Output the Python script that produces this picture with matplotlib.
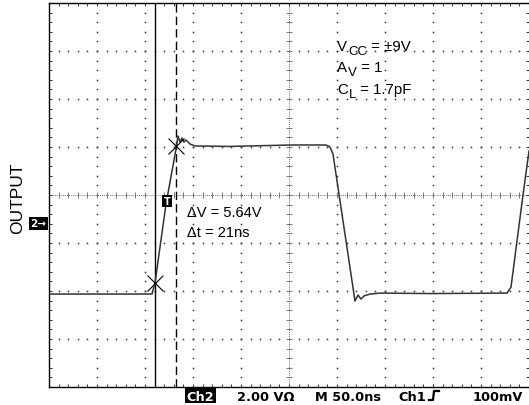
import numpy as np
import matplotlib
matplotlib.use("Agg")
import matplotlib.pyplot as plt
from matplotlib.patches import Rectangle
from matplotlib.lines import Line2D

# ---- data (time in ns, output in V) ----
t_ns = [0, 60, 107.3, 110.4, 121.9, 132.3, 134.4, 136.5, 138.5, 140.6, 142.7, 146.9,
        152.1, 188.5, 251.0, 288.5, 292.7, 295.8, 318.75, 321.9, 325.0, 328.1,
        334.4, 344.8, 396.9, 477.1, 481.25, 493.75, 500.0]
v_out = [-2.96, -2.96, -2.96, -2.50, 0.79, 3.08, 3.62, 3.37, 3.54, 3.37, 3.46, 3.29,
         3.21, 3.19, 3.25, 3.25, 3.17, 2.88, -3.25, -3.00, -3.17, -3.04,
         -2.96, -2.92, -2.94, -2.92, -2.67, 1.17, 3.00]

cursor_t = [110.4, 132.3]        # ns
cursor_v = [-2.50, 3.21]         # V
V_CENTER = 7.0 / 6.0             # screen center in V (ch2 ground 0.583 div below center)
V_DIV = 2.0                      # V/div
T_DIV = 50.0                     # ns/div

cond_lines = [[("V", 0), ("CC", 1), (" = ±9V", 0)],
              [("A", 0), ("V", 1), (" = 1", 0)],
              [("C", 0), ("L", 1), (" = 1.7pF", 0)]]
meas_lines = ["ΔV = 5.64V", "Δt = 21ns"]

W, H = 529, 406
fig = plt.figure(figsize=(W / 100, H / 100), dpi=100)
fig.patch.set_facecolor('white')

def fx(x):
    return x / W

def fy(y):
    return 1 - y / H

L, T, R, B = 49, 4, 529, 388
ax = fig.add_axes([fx(L), fy(B), (R - L) / W, (B - T) / H])
ax.set_xlim(0, 10 * T_DIV)
ax.set_ylim(V_CENTER - 4 * V_DIV, V_CENTER + 4 * V_DIV)
ax.set_facecolor('white')

for s in ['left', 'bottom', 'top']:
    ax.spines[s].set_linewidth(1.0)
    ax.spines[s].set_color('black')
ax.spines['right'].set_visible(False)

ax.set_xticks([])
ax.set_yticks([])
ax.set_xticks(np.arange(0, 10 * T_DIV + 0.1, T_DIV / 5), minor=True)
ax.set_yticks(V_CENTER + np.arange(-4 * V_DIV, 4 * V_DIV + 0.01, V_DIV / 5), minor=True)
ax.tick_params(which='both', direction='in', length=2.2, width=0.7, color='#333333',
               top=True, right=True, bottom=True, left=True,
               labelbottom=False, labelleft=False)

# graticule dots
gcol = '#333333'
tx_minor = np.arange(0, 10 * T_DIV + 0.1, T_DIV / 5)
vy_minor = V_CENTER + np.arange(-4 * V_DIV, 4 * V_DIV + 0.01, V_DIV / 5)
for k in range(1, 11):
    if k == 5:
        continue
    tg = k * T_DIV
    ax.plot([tg] * len(vy_minor), vy_minor, ls='none', marker='s', ms=1.1,
            mew=0, color=gcol, clip_on=False, zorder=1)
for k in range(-3, 4):
    if k == 0:
        continue
    vg = V_CENTER + k * V_DIV
    ax.plot(tx_minor, [vg] * len(tx_minor), ls='none', marker='s', ms=1.1,
            mew=0, color=gcol, zorder=1)

# center lines with ticks
ccol = '#777777'
ax.axhline(V_CENTER, color=ccol, lw=0.7, ls=(0, (1, 1)), zorder=1)
ax.axvline(5 * T_DIV, color=ccol, lw=0.7, ls=(0, (1, 1)), zorder=1)
ax.plot(tx_minor, [V_CENTER] * len(tx_minor), ls='none', marker='|', ms=5,
        mew=0.7, color=ccol, zorder=1)
ax.plot([5 * T_DIV] * len(vy_minor), vy_minor, ls='none', marker='_', ms=5,
        mew=0.7, color=ccol, zorder=1)

# cursors
ax.axvline(cursor_t[0], color='black', lw=1.0, zorder=3)
ax.axvline(cursor_t[1], color='black', lw=1.0, ls=(0, (6, 3)), zorder=3)

# waveform
ax.plot(t_ns, v_out, color='#333333', lw=1.1, zorder=4, solid_joinstyle='round')

# cursor crossing marks
ax.plot(cursor_t, cursor_v, ls='none', marker='x', ms=11, mew=0.8, color='black', zorder=5)

# text annotations
renderer = fig.canvas.get_renderer()
tfont = dict(family='Liberation Sans', color='black')
for i, parts in enumerate(cond_lines):
    x = 337.0
    base = 51 + i * 21.5
    for s, sub in parts:
        if sub:
            t = fig.text(fx(x + 1.0), fy(base + 4), s, ha='left', va='baseline',
                         fontsize=9.5, **tfont)
        else:
            t = fig.text(fx(x), fy(base), s, ha='left', va='baseline',
                         fontsize=10.8, **tfont)
        x += t.get_window_extent(renderer).width + (1.0 if sub else 0)
for i, s in enumerate(meas_lines):
    fig.text(fx(187), fy(217 + i * 20.5), s, ha='left', va='baseline',
             fontsize=10.5, **tfont)

fig.text(fx(18), fy(198), "OUTPUT", rotation=90, ha='center', va='center',
         family='Liberation Sans', fontsize=12.5)

# channel 2 ground marker
fig.patches.append(Rectangle((fx(29), fy(231)), (48 - 29) / W, 13 / H,
                             transform=fig.transFigure, facecolor='black', edgecolor='none'))
fig.text(fx(38.5), fy(224.5), "2→", ha='center', va='center', color='white',
         family='DejaVu Sans', fontsize=7.5, fontweight='bold')

# trigger marker
fig.patches.append(Rectangle((fx(162), fy(208)), 10 / W, 12 / H,
                             transform=fig.transFigure, facecolor='black', edgecolor='none',
                             zorder=6))
fig.text(fx(167), fy(202), "T", ha='center', va='center', color='white',
         family='DejaVu Sans', fontsize=7, fontweight='bold', zorder=7)

# bottom status bar
bfont = dict(family='DejaVu Sans', fontsize=9.3, fontweight='bold', color='black')
fig.patches.append(Rectangle((fx(185), fy(404)), 31 / W, 15 / H,
                             transform=fig.transFigure, facecolor='black', edgecolor='none'))
fig.text(fx(200.5), fy(401), "Ch2", ha='center', va='baseline', **{**bfont, 'color': 'white'})
fig.text(fx(237), fy(401), "2.00 VΩ", ha='left', va='baseline', **bfont)
fig.text(fx(315), fy(401), "M 50.0ns", ha='left', va='baseline', **bfont)
fig.text(fx(398), fy(401), "Ch1", ha='left', va='baseline', **bfont)
fig.text(fx(523), fy(401), "100mV", ha='right', va='baseline', **bfont)
fig.add_artist(Line2D([fx(429), fx(433), fx(434), fx(439)],
                      [fy(401), fy(401), fy(392), fy(392)],
                      transform=fig.transFigure, color='black', lw=1.6))

fig.savefig("out.png", dpi=100)
